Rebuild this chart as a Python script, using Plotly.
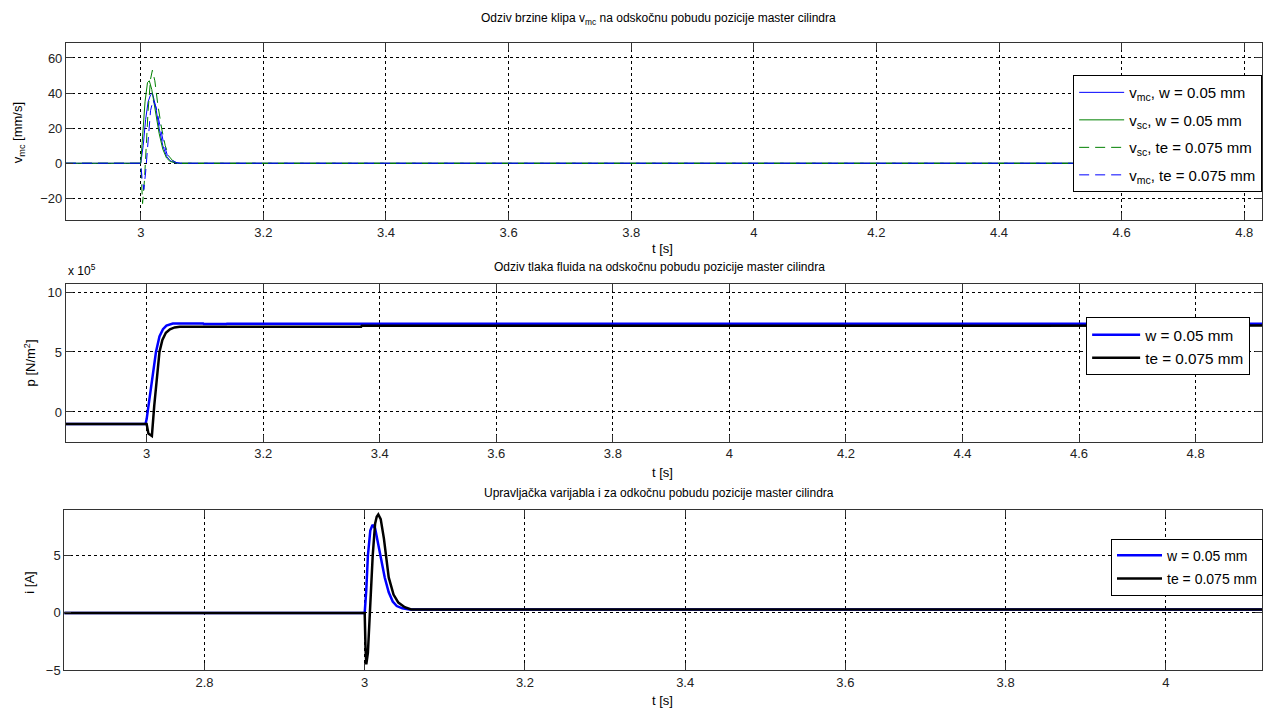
import plotly.graph_objects as go

# The 711 px tall figure is photographed inside a 720 px tall area that is then
# squeezed to 711 px, so vertical positions (given in reference pixels) are
# stretched by 720/711 before use. Legends are kept inside the page width.
W, H = 1263, 711
Y_STRETCH = 720 / 711
FONT = "Liberation Sans, Arial, sans-serif"

# ---------------- data: top subplot (velocity, mm/s) ----------------
t_vmc_w = [2.878, 3.0, 3.004, 3.008, 3.012, 3.016, 3.019, 3.024, 3.03, 3.036, 3.042, 3.048, 3.055, 3.06, 4.83]
v_vmc_w = [0, 0, 10, 25, 35, 39, 40, 33, 20, 10, 4, 1.5, 0.3, 0, 0]

t_vsc_w = [2.878, 3.0, 3.003, 3.007, 3.011, 3.014, 3.018, 3.024, 3.03, 3.036, 3.042, 3.048, 3.055, 3.06, 4.83]
v_vsc_w = [0, 0, 15, 35, 46, 47, 42, 30, 17, 8, 3, 1, 0.2, 0, 0]

t_vsc_te = [2.878, 3.0, 3.003, 3.006, 3.009, 3.012, 3.016, 3.019, 3.023, 3.028, 3.034, 3.04, 3.046, 3.052, 3.058, 3.065, 4.83]
v_vsc_te = [0, 0, -23, -10, 10, 30, 48, 53, 47, 33, 20, 10, 4, 1.5, 0.5, 0, 0]

t_vmc_te = [2.878, 3.0, 3.002, 3.005, 3.008, 3.012, 3.016, 3.02, 3.025, 3.031, 3.037, 3.043, 3.05, 3.057, 3.065, 4.83]
v_vmc_te = [0, 0, -8, -15, -5, 15, 30, 36, 32, 22, 12, 5, 2, 0.5, 0, 0]

# ---------------- data: middle subplot (pressure, N/m^2) ----------------
t_p_w = [2.861, 2.998, 3.0, 3.005, 3.01, 3.016, 3.022, 3.028, 3.034, 3.04, 3.045, 3.097, 3.098, 3.137, 3.138, 4.914]
p_w = [-1.0e5, -1.0e5, -0.6e5, 1.2e5, 3.0e5, 5.0e5, 6.3e5, 6.9e5, 7.2e5, 7.33e5, 7.38e5, 7.38e5, 7.34e5, 7.34e5, 7.36e5, 7.35e5]

t_p_te = [2.861, 3.0, 3.003, 3.009, 3.013, 3.018, 3.022, 3.027, 3.033, 3.04, 3.048, 3.057, 3.368, 3.369, 4.914]
p_te = [-1.0e5, -1.0e5, -1.8e5, -2.0e5, 0.5e5, 3.0e5, 5.0e5, 6.0e5, 6.6e5, 6.9e5, 7.05e5, 7.1e5, 7.1e5, 7.18e5, 7.2e5]

# ---------------- data: bottom subplot (current, A) ----------------
t_i_w = [2.625, 3.0, 3.002, 3.004, 3.007, 3.0097, 3.013, 3.017, 3.021, 3.025, 3.03, 3.035, 3.04, 3.047, 3.056, 4.12]
i_w = [0, 0, 2, 5, 7.2, 7.7, 7.4, 6.0, 4.4, 3.1, 1.8, 1.0, 0.6, 0.4, 0.3, 0.3]

t_i_te = [2.625, 3.0, 3.001, 3.002, 3.004, 3.0062, 3.01, 3.013, 3.015, 3.017, 3.02, 3.024, 3.03, 3.036, 3.042, 3.05, 3.058, 4.12]
i_te = [0, 0, -3, -4.5, -3.5, 0, 5, 7.8, 8.4, 8.6, 8.2, 6.5, 3.1, 1.6, 0.9, 0.5, 0.3, 0.3]

# ---------------- tick labels ----------------
x_ticks_top = [3.0, 3.2, 3.4, 3.6, 3.8, 4.0, 4.2, 4.4, 4.6, 4.8]
x_ticks_top_txt = ["3", "3.2", "3.4", "3.6", "3.8", "4", "4.2", "4.4", "4.6", "4.8"]
y_ticks_top = [-20, 0, 20, 40, 60]
y_ticks_mid = [0, 5e5, 10e5]
y_ticks_mid_txt = ["0", "5", "10"]
x_ticks_bot = [2.8, 3.0, 3.2, 3.4, 3.6, 3.8, 4.0]
x_ticks_bot_txt = ["2.8", "3", "3.2", "3.4", "3.6", "3.8", "4"]
y_ticks_bot = [-5, 0, 5]

BLUE = "#0000FF"
GREEN = "#008000"
BLACK = "#000000"


def px_x(p):
    return min(1.0, p / W)


def px_y(p):
    return max(0.0, 1 - p * Y_STRETCH / H)


fig = go.Figure()

# top
fig.add_trace(go.Scatter(x=t_vmc_w, y=v_vmc_w, mode="lines", line=dict(color=BLUE, width=1),
                         name="v<sub>mc</sub>, w = 0.05 mm", legendgroup="a1",
                         xaxis="x", yaxis="y", legend="legend"))
fig.add_trace(go.Scatter(x=t_vsc_w, y=v_vsc_w, mode="lines", line=dict(color=GREEN, width=1),
                         name="v<sub>sc</sub>, w = 0.05 mm", legendgroup="a2",
                         xaxis="x", yaxis="y", legend="legend"))
fig.add_trace(go.Scatter(x=t_vsc_te, y=v_vsc_te, mode="lines", line=dict(color=GREEN, width=1, dash="10px,6px"),
                         name="v<sub>sc</sub>, te = 0.075 mm", legendgroup="a3",
                         xaxis="x", yaxis="y", legend="legend"))
fig.add_trace(go.Scatter(x=t_vmc_te, y=v_vmc_te, mode="lines", line=dict(color=BLUE, width=1, dash="10px,6px"),
                         name="v<sub>mc</sub>, te = 0.075 mm", legendgroup="a4",
                         xaxis="x", yaxis="y", legend="legend"))
# middle
fig.add_trace(go.Scatter(x=t_p_w, y=p_w, mode="lines", line=dict(color=BLUE, width=2.5),
                         name="w = 0.05 mm", legendgroup="b1", xaxis="x2", yaxis="y2", legend="legend2"))
fig.add_trace(go.Scatter(x=t_p_te, y=p_te, mode="lines", line=dict(color=BLACK, width=2.5),
                         name="te = 0.075 mm", legendgroup="b2", xaxis="x2", yaxis="y2", legend="legend2"))
# bottom
fig.add_trace(go.Scatter(x=t_i_w, y=i_w, mode="lines", line=dict(color=BLUE, width=2.5),
                         name="w = 0.05 mm", legendgroup="c1", xaxis="x3", yaxis="y3", legend="legend3"))
fig.add_trace(go.Scatter(x=t_i_te, y=i_te, mode="lines", line=dict(color=BLACK, width=2.5),
                         name="te = 0.075 mm", legendgroup="c2", xaxis="x3", yaxis="y3", legend="legend3"))

axis_common = dict(
    showline=True, linecolor="#333333", linewidth=1, mirror="ticks",
    ticks="inside", ticklen=7, tickcolor="#333333", tickwidth=1,
    showgrid=True, gridcolor="#000000", gridwidth=1, griddash="3px,3px",
    zeroline=False, tickfont=dict(family=FONT, size=13, color="#222222"),
    fixedrange=True,
)

legend_common = dict(
    bgcolor="white", bordercolor="#000000", borderwidth=1,
    xanchor="left", yanchor="top",
)

fig.update_layout(
    width=W, height=H,
    margin=dict(l=0, r=0, t=0, b=0),
    paper_bgcolor="white", plot_bgcolor="white",
    font=dict(family=FONT, size=12, color="#000000"),
    xaxis=dict(axis_common, domain=[px_x(66), 1], range=[2.878, 4.829],
               tickvals=x_ticks_top, ticktext=x_ticks_top_txt, anchor="y"),
    yaxis=dict(axis_common, domain=[px_y(220), px_y(43)], range=[-32.5, 68.5],
               tickvals=y_ticks_top, anchor="x"),
    xaxis2=dict(axis_common, domain=[px_x(65.7), 1], range=[2.861, 4.914],
                tickvals=x_ticks_top, ticktext=x_ticks_top_txt, anchor="y2"),
    yaxis2=dict(axis_common, domain=[px_y(441), px_y(283.3)], range=[-2.47e5, 10.7e5],
                tickvals=y_ticks_mid, ticktext=y_ticks_mid_txt, anchor="x2"),
    xaxis3=dict(axis_common, domain=[px_x(64.3), 1], range=[2.625, 4.12],
                tickvals=x_ticks_bot, ticktext=x_ticks_bot_txt, anchor="y3"),
    yaxis3=dict(axis_common, domain=[px_y(669.3), px_y(509.3)], range=[-5, 9],
                tickvals=y_ticks_bot, anchor="x3"),
    legend=dict(legend_common, x=px_x(1074), y=px_y(75), tracegroupgap=5, itemwidth=45,
                font=dict(family=FONT, size=15, color="#000000")),
    legend2=dict(legend_common, x=px_x(1087), y=px_y(317), tracegroupgap=0, itemwidth=48,
                 font=dict(family=FONT, size=15.3, color="#000000")),
    legend3=dict(legend_common, x=px_x(1112), y=px_y(538), tracegroupgap=2, itemwidth=45,
                 font=dict(family=FONT, size=14, color="#000000")),
)

ann = []


def add_text(text, x, y, size=12, angle=0, xanchor="center", yanchor="middle"):
    ann.append(dict(text=text, x=px_x(x), y=px_y(y), xref="paper", yref="paper",
                    showarrow=False, textangle=angle, xanchor=xanchor, yanchor=yanchor,
                    font=dict(family=FONT, size=size, color="#000000")))


add_text("Odziv brzine klipa v<sub>mc</sub> na odskočnu pobudu pozicije master cilindra", 659, 19, 12)
add_text("Odziv tlaka fluida na odskočnu pobudu pozicije master cilindra", 660, 267, 12)
add_text("Upravljačka varijabla i za odkočnu pobudu pozicije master cilindra", 660, 492, 12)
add_text("t [s]", 663, 248, 13)
add_text("t [s]", 663, 472, 13)
add_text("t [s]", 663, 700, 13)
add_text("v<sub>mc</sub> [mm/s]", 18, 132, 13, angle=-90)
add_text("p [N/m<sup>2</sup>]", 30, 362, 13, angle=-90)
add_text("i [A]", 30, 582, 13, angle=-90)
add_text("x 10<sup>5</sup>", 66, 270, 12, xanchor="left")

fig.update_layout(annotations=ann)

# Remove the default 8px page margin so the figure starts at the window corner.
page_fit = (
    "document.documentElement.style.margin='0';"
    "document.body.style.margin='0';"
    "document.documentElement.style.overflow='hidden';"
    "document.body.style.overflow='hidden';"
)

fig.write_html("out.html", post_script=page_fit, config={"displayModeBar": False})
